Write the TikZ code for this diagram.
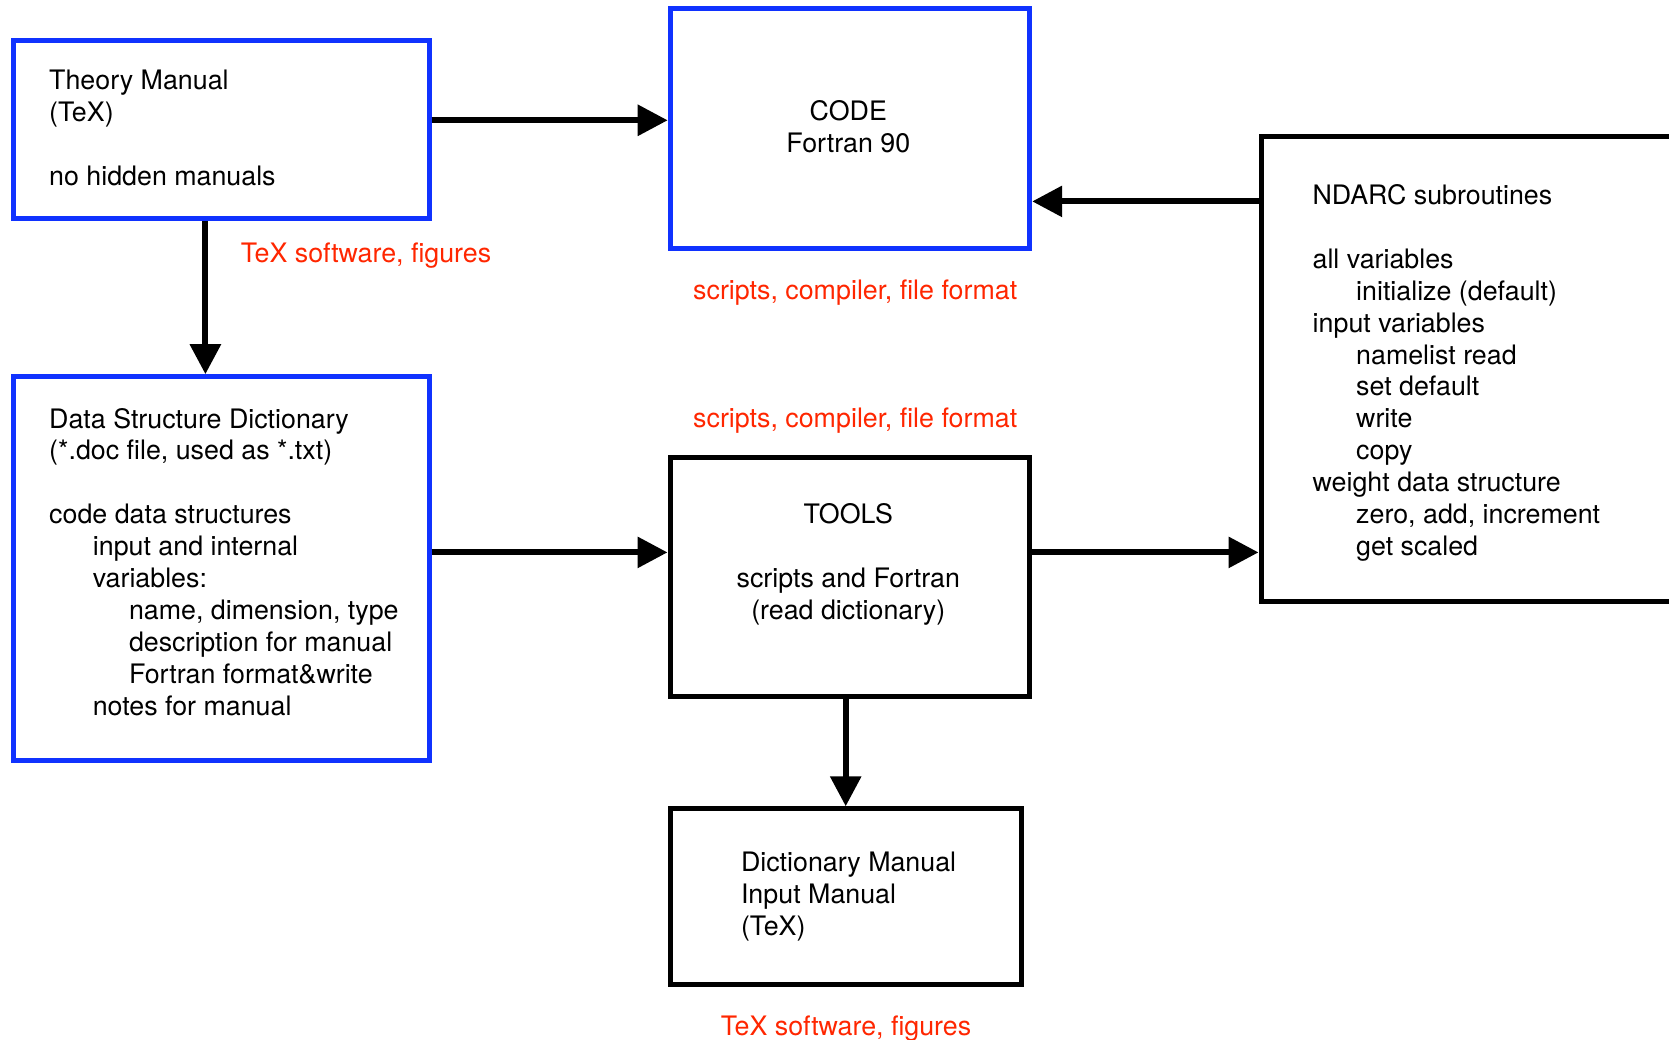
\documentclass[tikz,border=0pt]{standalone}
\usepackage{fontspec}
\setmainfont{TeX Gyre Heros}
\usetikzlibrary{arrows.meta}
\definecolor{frameblue}{RGB}{16,50,255}
\definecolor{notered}{RGB}{255,38,0}
\newcommand{\indentA}{\hspace*{43.6pt}}
\newcommand{\indentB}{\hspace*{79.8pt}}
\tikzset{
  frame/.style={draw, line width=5pt, inner sep=0pt, fill=none},
  blueframe/.style={frame, draw=frameblue},
  blackframe/.style={frame, draw=black},
  body/.style={inner sep=0pt, font=\fontsize{26.8pt}{31.9pt}\selectfont},
  leftbody/.style={body, align=left, anchor=north west},
  midbody/.style={body, align=center, anchor=north},
  note/.style={body, text=notered, anchor=base west},
  flow/.style={line width=6pt, -{Triangle[length=30pt,width=30pt]}},
}
\begin{document}
\begin{tikzpicture}[x=1pt, y=-1pt]
\useasboundingbox (0,0) rectangle (1669,1040);
\clip (0,0) rectangle (1669,1040);

% frames
\node[blueframe, minimum width=415.6pt, minimum height=177.7pt] (theory) at (221.2,129.65) {};
\node[blueframe, minimum width=359.5pt, minimum height=239.8pt] (code) at (849.95,128.4) {};
\node[blackframe, minimum width=459pt, minimum height=464.5pt] (ndarc) at (1490.5,368.95) {};
\node[blueframe, minimum width=415.6pt, minimum height=383.3pt] (ds) at (221.2,568.35) {};
\node[blackframe, minimum width=359.7pt, minimum height=239.7pt] (tools) at (849.85,576.85) {};
\node[blackframe, minimum width=351.7pt, minimum height=175.7pt] (dictman) at (845.85,896.65) {};

% frame contents
\node[leftbody] (theoryText) at (49,67)
  {\strut Theory Manual\\ (TeX)\\[31.9pt] no hidden manuals};
\node[midbody] (codeText) at (848.3,97.9)
  {\strut CODE\\ Fortran 90};
\node[leftbody] (ndarcText) at (1312.4,182)
  {\strut NDARC subroutines\\[31.9pt]
   all variables\\ \indentA initialize (default)\\
   input variables\\ \indentA namelist read\\ \indentA set default\\
   \indentA write\\ \indentA copy\\
   weight data structure\\ \indentA zero, add, increment\\ \indentA get scaled};
\node[leftbody] (dsText) at (49,405.5)
  {\strut Data Structure Dictionary\\ (*.doc file, used as *.txt)\\[31.9pt]
   code data structures\\ \indentA input and internal\\ \indentA variables:\\
   \indentB name, dimension, type\\ \indentB description for manual\\
   \indentB Fortran format\&write\\ \indentA notes for manual};
\node[midbody] (toolsText) at (848.3,501.3)
  {\strut TOOLS\\[31.9pt] scripts and Fortran\\ (read dictionary)};
\node[leftbody] (dictmanText) at (740.8,849.4)
  {\strut Dictionary Manual\\ Input Manual\\ (TeX)};

% notes
\node[note] (noteTheory) at (240.6,263) {TeX software, figures};
\node[note] (noteCode) at (693,300) {scripts, compiler, file format};
\node[note] (noteTools) at (693,427.8) {scripts, compiler, file format};
\node[note] (noteDict) at (720.6,1035.3) {TeX software, figures};

% connectors
\draw[flow] (theory.east |- 0,120.3) -- (code.west |- 0,120.3);
\draw[flow] (theory.south -| 205.4,0) -- (ds.north -| 205.4,0);
\draw[flow] (ndarc.west |- 0,201.4) -- (code.east |- 0,201.4);
\draw[flow] (ds.east |- 0,552.4) -- (tools.west |- 0,552.4);
\draw[flow] (tools.east |- 0,552.4) -- (ndarc.west |- 0,552.4);
\draw[flow] (tools.south -| 845.7,0) -- (dictman.north -| 845.7,0);
\end{tikzpicture}
\end{document}
